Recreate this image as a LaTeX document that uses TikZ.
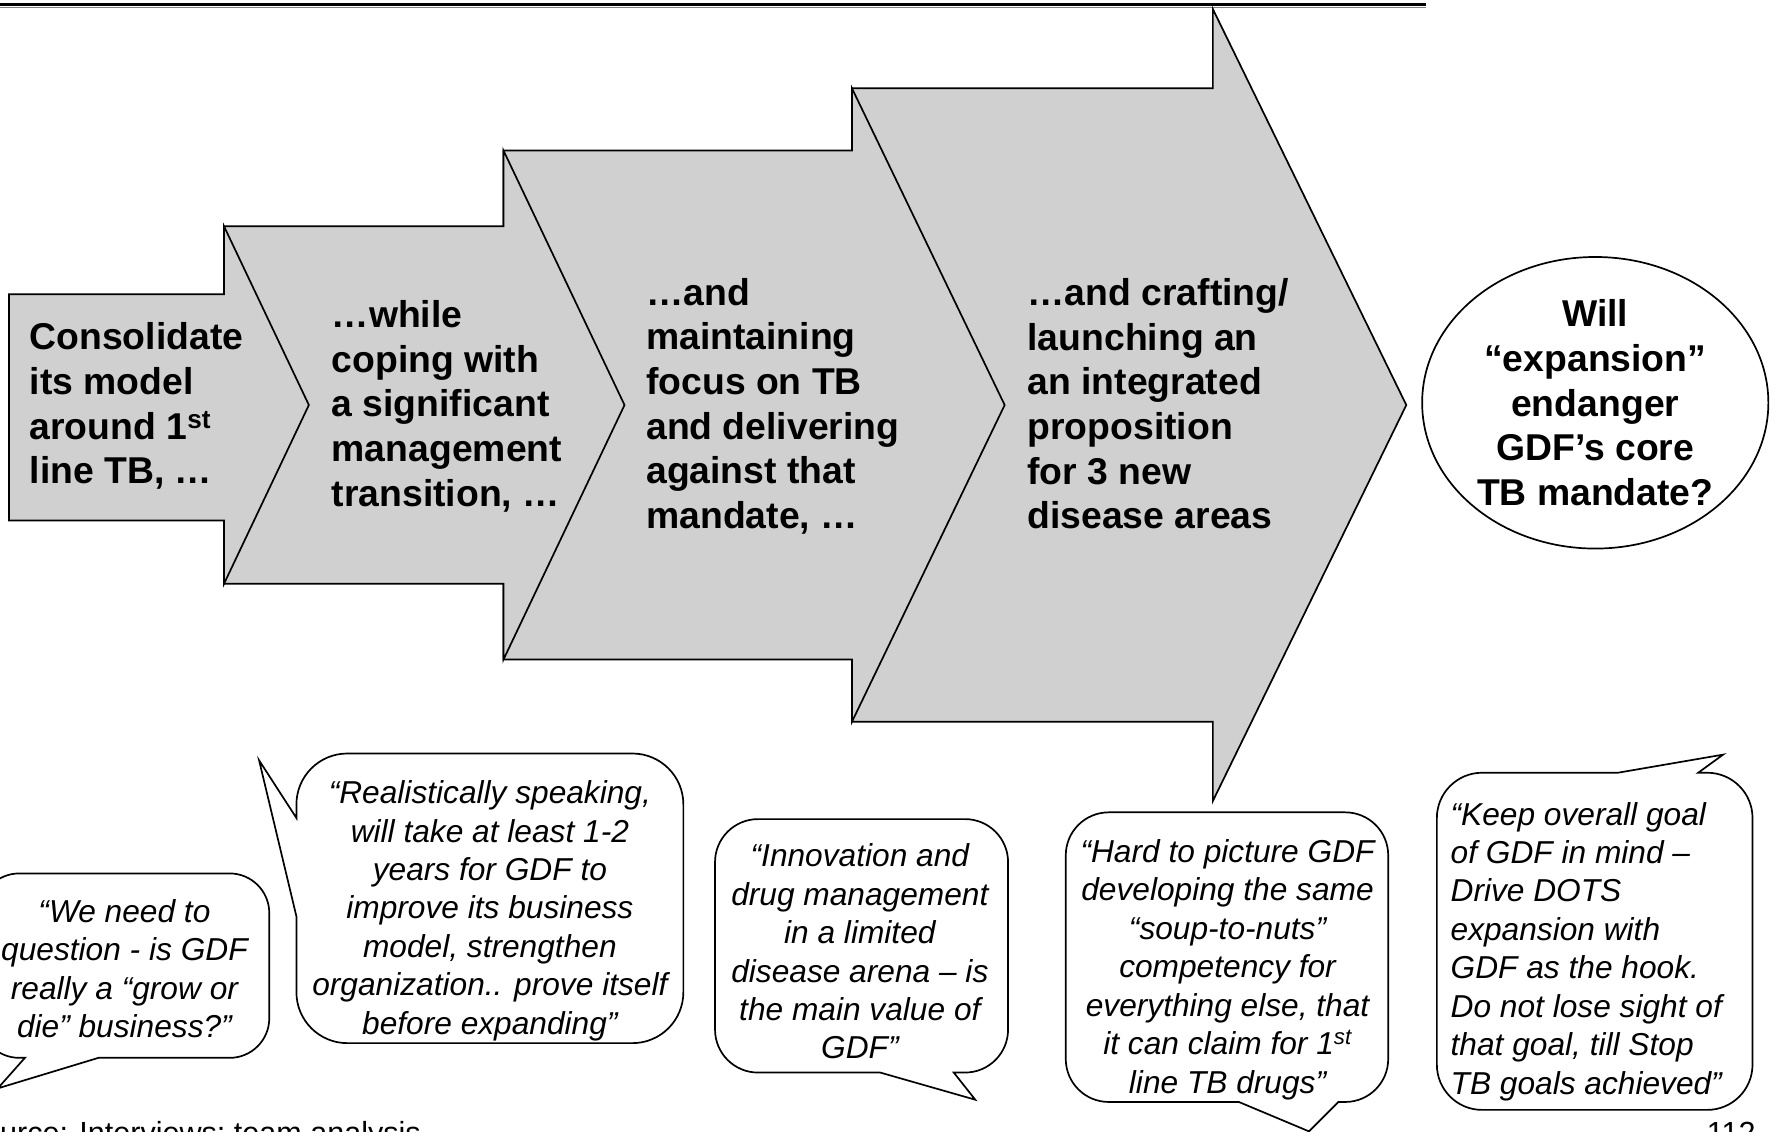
\documentclass[tikz,border=0pt]{standalone}
\usepackage{fontspec}
\setmainfont{Liberation Sans}
\usetikzlibrary{shapes.geometric,positioning}
\definecolor{arrowgray}{RGB}{208,208,208}
\tikzset{
  chevron/.style={draw=black, fill=arrowgray, line width=1.5pt, line join=miter},
  steptext/.style={font=\fontsize{33}{39.5}\selectfont\bfseries, align=left, anchor=west, inner sep=0pt},
  quotebox/.style={draw=black, fill=white, line width=1.5pt},
  quotetext/.style={font=\fontsize{28}{34}\selectfont\itshape, align=center, inner sep=0pt},
  foottext/.style={font=\fontsize{27}{32}\selectfont, inner sep=0pt},
}

\begin{document}
\begin{tikzpicture}[x=1pt,y=-1pt]
  \useasboundingbox (0,0) rectangle (1568,1000);
  % Draw the top rule
  \draw[line width=2.5pt] (0,4) -- (1260,4);
  \draw[gray, line width=1pt] (0,6.8) -- (1260,6.8);
  % Draw the step arrows, back to front
  \draw[chevron] (753,78) -- (1072,78) -- (1072,8) -- (1243,358) -- (1072,708) -- (1072,638) -- (753,638) -- cycle;
  \draw[chevron] (445,133) -- (753,133) -- (753,78) -- (888,358) -- (753,638) -- (753,583) -- (445,583) -- cycle;
  \draw[chevron] (198,200) -- (445,200) -- (445,133) -- (552,358) -- (445,583) -- (445,516) -- (198,516) -- cycle;
  \draw[chevron] (8,260) -- (198,260) -- (198,200) -- (273,358) -- (198,516) -- (198,460) -- (8,460) -- cycle;
  % Label the steps
  \node (stepA) [steptext] at (26,359) {Consolidate\\its model\\around 1\textsuperscript{st}\\line TB, …};
  \node (stepB) [steptext] at (293,359) {…while\\coping with\\a significant\\management\\transition, …};
  \node (stepC) [steptext] at (571,359) {…and\\maintaining\\focus on TB\\and delivering\\against that\\mandate, …};
  \node (stepD) [steptext] at (908,357) {…and crafting/\\launching an\\an integrated\\proposition\\for 3 new\\disease areas};
  % The closing question
  \node (question) [ellipse, draw, line width=1.5pt, fill=white, minimum width=306pt, minimum height=224pt,
    inner sep=0pt, align=center, font=\fontsize{33}{39.5}\selectfont\bfseries] at (1410,356)
    {Will\\“expansion”\\endanger\\GDF’s core\\TB mandate?};
  % Draw the quote callouts
  \draw[quotebox] (150,772) [rounded corners=35] -- (-18,772) -- (-18,935) [sharp corners] -- (22,935) -- (-2,962) -- (87,935) [rounded corners=35] -- (238,935) -- (238,772) [sharp corners] -- cycle;
  \draw[quotebox] (433,666) [rounded corners=45] -- (262,666) [sharp corners] -- (262,723) -- (229,672) -- (262,810) [rounded corners=45] -- (262,922) -- (604,922) -- (604,666) [sharp corners] -- cycle;
  \draw[quotebox] (760,724) [rounded corners=38] -- (632,724) -- (632,948) [sharp corners] -- (778,948) -- (862,972) -- (843,948) [rounded corners=38] -- (891,948) -- (891,724) [sharp corners] -- cycle;
  \draw[quotebox] (1085,718) [rounded corners=38] -- (942,718) -- (942,974) [sharp corners] -- (1095,974) -- (1157,1000) -- (1183,974) [rounded corners=38] -- (1227,974) -- (1227,718) [sharp corners] -- cycle;
  \draw[quotebox] (1400,981) [rounded corners=40] -- (1549,981) -- (1549,683) [sharp corners] -- (1501,683) -- (1523,667) -- (1430,683) [rounded corners=40] -- (1270,683) -- (1270,981) [sharp corners] -- cycle;
  % Label the quotes
  \node (quoteA) [quotetext] at (110,856) {“We need to\\question - is GDF\\really a “grow or\\die” business?”};
  \node (quoteB) [quotetext] at (433,805) {“Realistically speaking,\\will take at least 1-2\\years for GDF to\\improve its business\\model, strengthen\\organization.. prove itself\\before expanding”};
  \node (quoteC) [quotetext] at (760,841) {“Innovation and\\drug management\\in a limited\\disease arena – is\\the main value of\\GDF”};
  \node (quoteD) [quotetext] at (1085,857) {“Hard to picture GDF\\developing the same\\“soup-to-nuts”\\competency for\\everything else, that\\it can claim for 1\textsuperscript{st}\\line TB drugs”};
  \node (quoteE) [quotetext, align=left, anchor=west] at (1282,841) {“Keep overall goal\\of GDF in mind –\\Drive DOTS\\expansion with\\GDF as the hook.\\Do not lose sight of\\that goal, till Stop\\TB goals achieved”};
  % Footer
  \node (source) [foottext, anchor=base west] at (-33,1011) {Source: Interviews; team analysis};
  \node (pagenum) [foottext, anchor=base east] at (1552,1011) {112};
\end{tikzpicture}
\end{document}
